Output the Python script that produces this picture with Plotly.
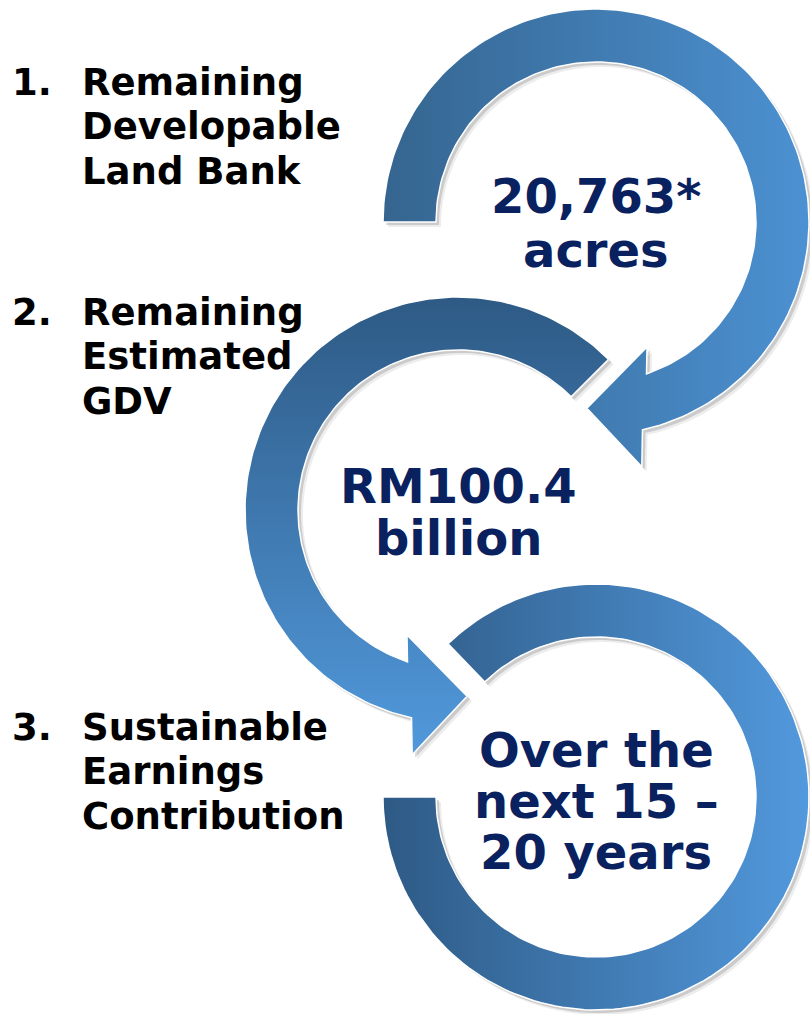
import numpy as np
import plotly.graph_objects as go

# text content
steps = ["1.", "2.", "3."]
labels = [["Remaining", "Developable", "Land Bank"],
          ["Remaining", "Estimated", "GDV"],
          ["Sustainable", "Earnings", "Contribution"]]
figures = [["20,763*", "acres"],
           ["RM100.4", "billion"],
           ["Over the", "next 15 \u2013", "20 years"]]

# layout of the three rings (pixel space, y down)
centers = [(596, 222), (458, 510), (596, 797)]
label_y = [82, 312, 727]
figure_y = [196, 486, 750]
figure_step = [54, 52, 51]
grads = [("horizontal", "#35658f", "#4c91d2"),
         ("vertical", "#5199dc", "#2e5a85"),
         ("horizontal", "#2e5a85", "#5299dd")]

R_OUT, R_IN, R_MID = 213, 160, 186.5
NAVY = "#0a215f"
FONT = "DejaVu Sans"


def arc(cx, cy, r, a0, a1, n=160):
    t = np.radians(np.linspace(a0, a1, n))
    return list(cx + r * np.cos(t)), list(cy + r * np.sin(t))


def pt(cx, cy, r, a):
    t = np.radians(a)
    return cx + r * np.cos(t), cy + r * np.sin(t)


def ring(cx, cy, a0, a1, head=None, s=1):
    if head is None:
        xo, yo = arc(cx, cy, R_OUT, a0, a1)
        xi, yi = arc(cx, cy, R_IN, a1, a0)
        return xo + xi + [xo[0]], yo + yi + [yo[0]]
    B = head
    xo, yo = arc(cx, cy, R_OUT, a0, B - s * 12.6)
    tips = [pt(cx, cy, 249, B - s * 10.6), pt(cx, cy, R_MID, B + s * 2.8),
            pt(cx, cy, 135, B - s * 22.2)]
    xi, yi = arc(cx, cy, R_IN, B - s * 18.4, a0)
    xs = xo + [p[0] for p in tips] + xi + [xo[0]]
    ys = yo + [p[1] for p in tips] + yi + [yo[0]]
    return xs, ys


shapes_xy = [ring(*centers[0], 180, 0, head=450, s=1),
             ring(*centers[1], 315, 0, head=90, s=-1),
             ring(*centers[2], 226, 540)]

fig = go.Figure()

for xs, ys in shapes_xy:
    for off, alpha in [(5, 0.07), (3, 0.14)]:
        fig.add_trace(go.Scatter(x=[x + off for x in xs], y=[y + off for y in ys],
                                 fill="toself", mode="none",
                                 fillcolor=f"rgba(0,0,0,{alpha})", hoverinfo="skip"))

for (xs, ys), (kind, c0, c1) in zip(shapes_xy, grads):
    fig.add_trace(go.Scatter(x=xs, y=ys, fill="toself", mode="lines",
                             line=dict(color="white", width=1.5),
                             fillgradient=dict(type=kind, colorscale=[[0, c0], [1, c1]]),
                             hoverinfo="skip"))

for i in range(3):
    fig.add_annotation(x=10, y=label_y[i], text=steps[i], showarrow=False,
                       xanchor="left", yanchor="middle",
                       font=dict(family=FONT, size=37, color="black", weight="bold"))
    for j, line in enumerate(labels[i]):
        fig.add_annotation(x=80, y=label_y[i] + 44.5 * j, text=line, showarrow=False,
                           xanchor="left", yanchor="middle",
                           font=dict(family=FONT, size=37, color="black", weight="bold"))
    cx = centers[i][0]
    for j, line in enumerate(figures[i]):
        fig.add_annotation(x=cx, y=figure_y[i] + figure_step[i] * j, text=line,
                           showarrow=False, xanchor="center", yanchor="middle",
                           font=dict(family=FONT, size=48, color=NAVY, weight="bold"))

fig.update_xaxes(range=[0, 810], visible=False)
fig.update_yaxes(range=[1014, 0], visible=False)
fig.update_layout(width=810, height=1014, margin=dict(l=0, r=0, t=0, b=0),
                  plot_bgcolor="white", paper_bgcolor="white", showlegend=False)

fig.write_html("out.html", config={"displayModeBar": False},
               post_script="document.body.style.margin='0';")
